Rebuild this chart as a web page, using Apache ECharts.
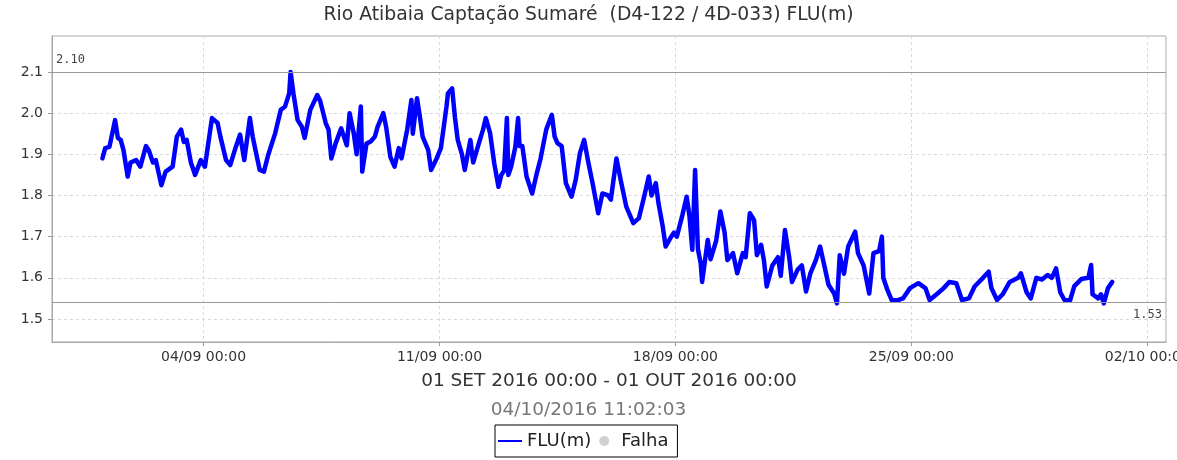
<!DOCTYPE html>
<html>
<head>
<meta charset="utf-8">
<script src="https://cdn.jsdelivr.net/npm/echarts@6/dist/echarts.min.js"></script>
<style>
html,body{margin:0;padding:0;background:#fff;}
#chart{width:1177px;height:460px;}
</style>
</head>
<body>
<div id="chart"></div>
<script>
// ---- data (hours since 01/09/2016 00:00, FLU level in metres) ----
const hours = [
 0,2,5,9,11,13,15,18,20,24,27,31,33,36,38,42,45,50,53,56,58,60,63,66,70,73,
 78,82,84,88,91,95,98,101,105,107,109,112,115,118,123,127,130,133,134,136,139,142,144,
 148,153,155,159,161,163,166,170,174,176,179,181,184,185,188,
 191,194,196,200,202,205,208,211,213,217,220,221,224,226,228,232,234,238,241,245,246,249,
 251,253,256,258,262,264,267,271,273,276,279,282,284,286,288,289,291,294,296,297,299,
 302,306,309,312,316,320,322,324,327,330,334,337,340,343,346,349,353,356,360,362,366,369,373,378,
 382,386,389,391,394,396,399,401,405,407,409,413,416,418,420,422,424,426,427,431,433,437,440,443,
 445,449,452,456,458,461,464,466,469,471,473,477,481,483,486,489,491,495,498,501,504,508,511,514,
 517,521,523,525,528,531,536,538,542,546,549,553,555,556,559,562,566,570,575,581,586,589,
 594,599,603,608,612,617,621,627,631,633,637,641,646,652,654,658,661,665,669,673,676,679,
 682,685,689,692,697,702,704,705,709,711,713,716,719
];
const flu = [
 1.890,1.915,1.918,1.983,1.940,1.935,1.910,1.846,1.880,1.886,1.870,1.920,1.910,1.880,1.886,1.825,1.858,1.870,1.943,1.960,1.930,1.935,1.880,1.850,1.886,1.870,
 1.988,1.976,1.943,1.886,1.874,1.918,1.948,1.886,1.988,1.943,1.910,1.862,1.858,1.898,1.951,2.008,2.016,2.048,2.100,2.048,1.983,1.967,1.940,
 2.008,2.044,2.030,1.976,1.960,1.890,1.926,1.963,1.922,2.000,1.950,1.900,2.016,1.858,1.926,
 1.931,1.943,1.967,2.000,1.967,1.894,1.870,1.915,1.890,1.960,2.032,1.950,2.036,1.992,1.943,1.910,1.862,1.890,1.915,2.016,2.048,2.060,
 1.990,1.935,1.900,1.862,1.935,1.880,1.915,1.960,1.988,1.952,1.878,1.821,1.850,1.860,1.988,1.850,1.870,1.918,1.988,1.920,1.920,
 1.846,1.805,1.850,1.890,1.960,1.996,1.943,1.927,1.920,1.830,1.797,1.838,1.903,1.935,1.880,1.830,1.757,1.805,1.800,1.790,1.890,1.838,1.773,1.733,
 1.745,1.801,1.846,1.800,1.830,1.780,1.724,1.676,1.700,1.710,1.700,1.753,1.797,1.750,1.668,1.862,1.670,1.635,1.590,1.692,1.645,1.690,1.761,1.710,
 1.643,1.660,1.611,1.660,1.650,1.757,1.740,1.655,1.680,1.643,1.579,1.630,1.650,1.605,1.716,1.650,1.590,1.620,1.630,1.567,1.610,1.643,1.676,1.630,
 1.583,1.562,1.538,1.655,1.610,1.676,1.712,1.660,1.630,1.562,1.660,1.665,1.700,1.600,1.570,1.546,1.545,1.550,1.575,1.587,1.575,1.546,
 1.560,1.575,1.590,1.587,1.546,1.550,1.579,1.600,1.615,1.575,1.546,1.560,1.590,1.600,1.611,1.565,1.550,1.600,1.596,1.607,1.600,1.623,
 1.565,1.546,1.545,1.580,1.597,1.600,1.631,1.560,1.550,1.560,1.538,1.575,1.590
];
// reference levels drawn as horizontal lines
const refLevels = [2.10, 1.536];
const refLabels = ['2.10', '1.53'];
// axis window (hours since 01/09 00:00) and tick origin (04/09 00:00, weekly)
const xMinHours = -35.9;
const xMaxHours = 757.3;
const tickOriginHours = 72;
const weekHours = 168;
const yMin = 1.4441, yMax = 2.1874;

const titleText = 'Rio Atibaia Captação Sumaré  (D4-122 / 4D-033) FLU(m)';
const periodText = '01 SET 2016 00:00 - 01 OUT 2016 00:00';
const stampText = '04/10/2016 11:02:03';
const seriesName = 'FLU(m)';
const failName = 'Falha';

const toWeeks = h => (h - tickOriginHours) / weekHours;
const seriesData = hours.map((h, i) => [toWeeks(h), flu[i]]);

function weekLabel(w) {
  const d = new Date(Date.UTC(2016, 8, 4) + Math.round(w * 7) * 86400000);
  const dd = String(d.getUTCDate()).padStart(2, '0');
  const mm = String(d.getUTCMonth() + 1).padStart(2, '0');
  return dd + '/' + mm + ' 00:00';
}

const FONT = 'DejaVu Sans';
const MONO = 'DejaVu Sans Mono';
const chart = echarts.init(document.getElementById('chart'), null, {renderer: 'canvas'});
chart.setOption({
  animation: false,
  backgroundColor: '#fff',
  textStyle: {fontFamily: FONT},
  title: [
    {text: titleText, left: 'center', top: 6, padding: 0,
     textStyle: {fontFamily: FONT, fontSize: 18.8, fontWeight: 'normal', color: '#333'}},
    {text: stampText, left: 'center', top: 401, padding: 0,
     textStyle: {fontFamily: FONT, fontSize: 18.5, fontWeight: 'normal', color: '#777'}}
  ],
  legend: {
    left: 495, top: 425,
    padding: [7, 9, 7, 3],
    borderColor: '#000', borderWidth: 1,
    itemWidth: 24, itemHeight: 10, itemGap: 8,
    textStyle: {fontFamily: FONT, fontSize: 18, color: '#222'},
    data: [
      {name: seriesName, icon: 'path://M0,0 L24,0 L24,2 L0,2 Z'},
      {name: failName, icon: 'circle'}
    ]
  },
  grid: {left: 52, top: 36, right: 11, bottom: 118, outerBoundsMode: 'none', containLabel: false,
         show: true, borderColor: '#a8a8a8', borderWidth: 1, backgroundColor: '#fff'},
  xAxis: {
    type: 'value', min: toWeeks(xMinHours), max: toWeeks(xMaxHours), splitNumber: 5,
    name: periodText, nameLocation: 'middle', nameGap: 30,
    nameTextStyle: {fontFamily: FONT, fontSize: 18.5, color: '#333'},
    axisLine: {show: true, onZero: false, lineStyle: {color: '#a8a8a8'}},
    axisTick: {show: true, length: 4, lineStyle: {color: '#999'}},
    axisLabel: {fontFamily: FONT, fontSize: 14, color: '#333', margin: 8,
      showMinLabel: false, showMaxLabel: false, hideOverlap: false, formatter: v => weekLabel(v)},
    splitLine: {show: true, lineStyle: {color: '#d9d9d9', type: [3, 3], width: 1}}
  },
  yAxis: {
    type: 'value', min: yMin, max: yMax, splitNumber: 7,
    axisLine: {show: true, onZero: false, lineStyle: {color: '#a8a8a8'}},
    axisTick: {show: true, length: 4, lineStyle: {color: '#999'}},
    axisLabel: {fontFamily: FONT, fontSize: 14, color: '#333', margin: 9,
      showMinLabel: false, showMaxLabel: false, formatter: v => v.toFixed(1)},
    splitLine: {show: true, lineStyle: {color: '#d9d9d9', type: [3, 3], width: 1}}
  },
  series: [
    {
      name: seriesName, type: 'line', data: seriesData, symbol: 'none', showSymbol: false,
      color: '#0000ff',
      lineStyle: {color: '#0000ff', width: 4.5, join: 'round', cap: 'round'},
      z: 3,
      markLine: {
        silent: true, symbol: 'none', animation: false,
        lineStyle: {color: '#9a9a9a', type: 'solid', width: 1},
        data: refLevels.map((v, i) => ({
          yAxis: v,
          label: {show: true, formatter: refLabels[i],
            position: i === 0 ? 'insideStartTop' : 'insideEndBottom',
            fontFamily: MONO, fontSize: 12, color: '#444', distance: [4, 6]}
        }))
      }
    },
    {name: failName, type: 'scatter', data: [], itemStyle: {color: '#c4c4c4'}}
  ]
});
</script>
</body>
</html>
